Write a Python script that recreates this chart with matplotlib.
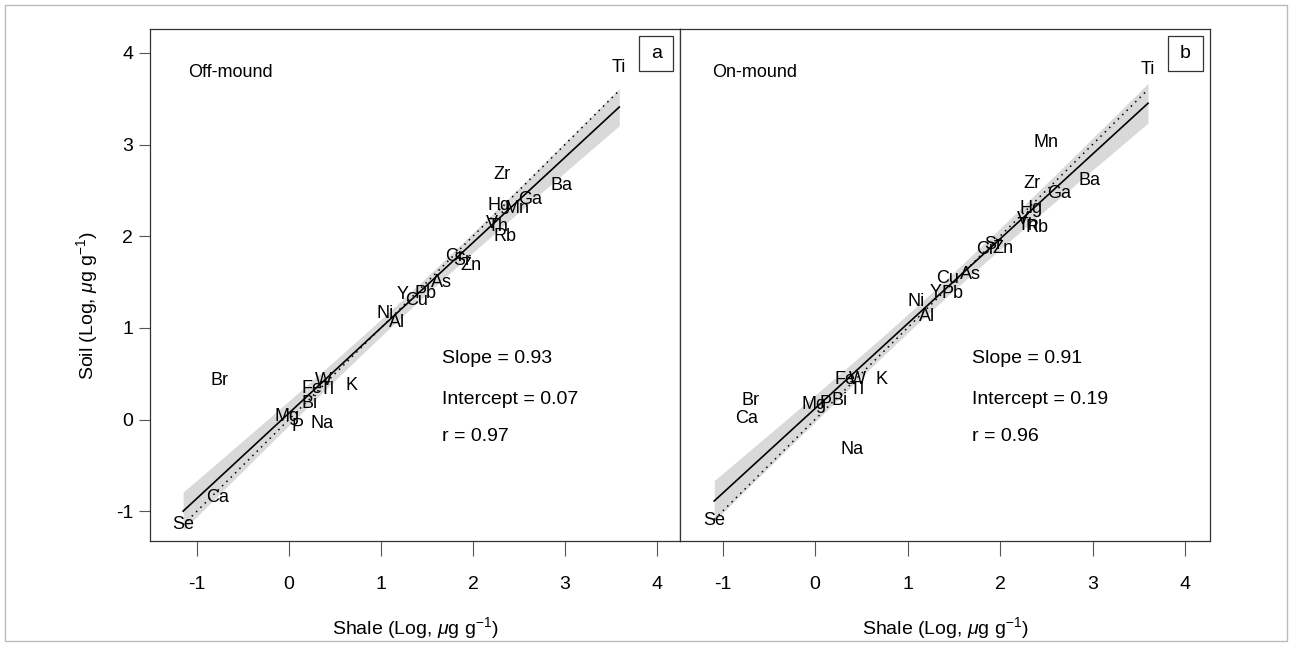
import numpy as np
import matplotlib
matplotlib.use("Agg")
import matplotlib.pyplot as plt
from matplotlib import font_manager
from matplotlib.patches import Rectangle

# Datos: elementos y valores log (shale, soil)
elements = ["Ti", "Zr", "Ba", "Ga", "Mn", "Hg", "V", "Th", "Rb", "Cr", "Sr", "Zn",
            "As", "Y", "Cu", "Pb", "Ni", "Al", "Br", "K", "W", "Fe", "Tl", "Bi",
            "Mg", "P", "Na", "Ca", "Se"]

shale_off = [3.59, 2.32, 2.96, 2.62, 2.48, 2.28, 2.21, 2.27, 2.35, 1.80, 1.88, 1.98,
             1.66, 1.24, 1.39, 1.48, 1.04, 1.18, -0.75, 0.68, 0.37, 0.25, 0.42, 0.22,
             -0.02, 0.09, 0.36, -0.78, -1.15]
soil_off = [3.84, 2.67, 2.55, 2.40, 2.30, 2.33, 2.14, 2.11, 2.00, 1.78, 1.73, 1.68,
            1.50, 1.36, 1.30, 1.37, 1.16, 1.06, 0.43, 0.37, 0.43, 0.34, 0.33, 0.18,
            0.03, -0.08, -0.04, -0.85, -1.15]

shale_on = [3.60, 2.35, 2.97, 2.64, 2.50, 2.34, 2.25, 2.30, 2.40, 1.84, 1.93, 2.03,
            1.68, 1.30, 1.43, 1.49, 1.09, 1.21, -0.70, 0.72, 0.46, 0.32, 0.45, 0.26,
            -0.01, 0.11, 0.40, -0.74, -1.09]
soil_on = [3.82, 2.57, 2.61, 2.47, 3.02, 2.30, 2.18, 2.12, 2.09, 1.85, 1.91, 1.87,
           1.58, 1.39, 1.54, 1.37, 1.29, 1.12, 0.21, 0.44, 0.44, 0.44, 0.33, 0.21,
           0.16, 0.18, -0.33, 0.01, -1.10]

# valores impresos: slope, intercept, r
stats_off = (0.93, 0.07, 0.97)
stats_on = (0.91, 0.19, 0.96)
# recta dibujada: slope, intercept
line_off = (0.93, 0.07)
line_on = (0.925, 0.12)
ticks = [-1, 0, 1, 2, 3, 4]

# fuentes
names = {f.name for f in font_manager.fontManager.ttflist}
narrow = "Liberation Sans Narrow" if "Liberation Sans Narrow" in names else "Liberation Sans"
plt.rcParams["font.family"] = ["Liberation Sans", "DejaVu Sans"]
plt.rcParams["mathtext.fontset"] = "custom"
plt.rcParams["mathtext.rm"] = narrow
plt.rcParams["mathtext.it"] = narrow + ":italic"

fig = plt.figure(figsize=(12.92, 6.46), dpi=100)
fig.patches.append(Rectangle((5 / 1292, 5 / 646), 1282 / 1292, 636 / 646,
                             transform=fig.transFigure, fill=False,
                             edgecolor="#bbbbbb", lw=1))

W, H = 1292, 646
top, bot = 29, 541
axL = fig.add_axes([150 / W, 1 - bot / H, 530 / W, (bot - top) / H])
axR = fig.add_axes([680 / W, 1 - bot / H, 530 / W, (bot - top) / H])


def panel(ax, xs, ys, stats, line, title, letter, xlim, xtx):
    xs = np.array(xs)
    ys = np.array(ys)
    slope, icpt = line
    xx = np.linspace(xs.min(), xs.max(), 100)
    yy = icpt + slope * xx
    # banda de confianza
    n = len(xs)
    res = ys - (icpt + slope * xs)
    s = np.sqrt(np.sum(res ** 2) / (n - 2))
    sxx = np.sum((xs - xs.mean()) ** 2)
    hw = 1.7 * s * np.sqrt(1 / n + (xx - xs.mean()) ** 2 / sxx)
    ax.fill_between(xx, yy - hw, yy + hw, color="#d9d9d9", lw=0, zorder=1)
    ax.plot(xx, xx, color="black", ls=(0, (1, 3)), lw=1.1, zorder=2)
    ax.plot(xx, yy, color="black", lw=1.2, zorder=3)
    for el, x, y in zip(elements, xs, ys):
        ax.text(x, y, el, ha="center", va="center", fontsize=13, zorder=4)

    ax.set_xlim(*xlim)
    ax.set_ylim(-1.325, 4.26)
    ax.set_xticks(ticks)
    ax.set_xticklabels([str(t) for t in ticks], fontfamily=narrow, fontsize=14)
    ax.tick_params(axis="x", length=11, pad=14, width=0.8, color="#555555")
    ax.set_xlabel(r"Shale (Log, $\mu$g g$^{-1}$)", fontfamily=narrow, fontsize=14,
                  labelpad=16)
    for sp in ax.spines.values():
        sp.set_linewidth(0.9)
        sp.set_color("#333333")

    ax.text(title[1], 0.916, title[0], transform=ax.transAxes, fontsize=13,
            va="center", ha="left")
    ax.add_patch(Rectangle((xtx, 0.918), 0.065, 0.068, transform=ax.transAxes,
                           fill=False, edgecolor="#333333", lw=0.9))
    ax.text(xtx + 0.0325, 0.952, letter, transform=ax.transAxes, fontsize=14,
            fontfamily=narrow, ha="center", va="center")
    sx = 0.551
    ax.text(sx, 0.357, "Slope = %.2f" % stats[0], transform=ax.transAxes,
            fontsize=14, fontfamily=narrow, va="center")
    ax.text(sx, 0.277, "Intercept = %.2f" % stats[1], transform=ax.transAxes,
            fontsize=14, fontfamily=narrow, va="center")
    ax.text(sx, 0.205, "r = %.2f" % stats[2], transform=ax.transAxes,
            fontsize=14, fontfamily=narrow, va="center")


panel(axL, shale_off, soil_off, stats_off, line_off, ("Off-mound", 0.072), "a",
      (-1.51, 4.25), 0.9226)
panel(axR, shale_on, soil_on, stats_on, line_on, ("On-mound", 0.060), "b",
      (-1.46, 4.27), 0.921)

axL.set_yticks(ticks)
axL.set_yticklabels([str(t) for t in ticks], fontfamily=narrow, fontsize=14)
axL.tick_params(axis="y", length=8, pad=4, width=0.8, color="#555555")
axL.set_ylabel(r"Soil (Log, $\mu$g g$^{-1}$)", fontfamily=narrow, fontsize=14)
axL.yaxis.set_label_coords(-0.095, 0.46)
axR.tick_params(axis="y", left=False, labelleft=False)

fig.savefig("out.png", dpi=100)
